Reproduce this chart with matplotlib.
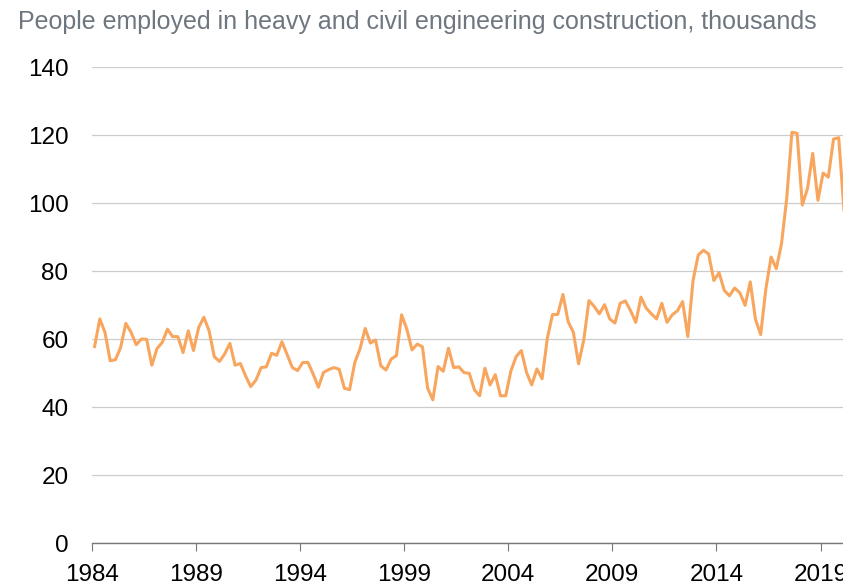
import numpy as np
import matplotlib
matplotlib.use("Agg")
import matplotlib.pyplot as plt

plt.rcParams['font.family'] = ['Liberation Sans', 'DejaVu Sans']

# quarterly employment, thousands, 1984 Q1 onwards
employed = [
    57.8, 65.9, 61.9, 53.6, 53.9, 57.5, 64.6, 62.0, 58.3, 60.0, 59.9, 52.3,
    57.2, 59.0, 62.9, 60.7, 60.7, 56.0, 62.4, 56.6, 63.4, 66.4, 62.4, 54.8,
    53.4, 55.6, 58.7, 52.3, 52.8, 49.2, 46.0, 47.9, 51.6, 51.8,
    55.8, 55.2, 59.2, 55.4, 51.6, 50.7, 53.1, 53.1, 49.7, 45.8, 50.2, 51.0,
    51.6, 51.1, 45.5, 45.1, 53.1, 57.1, 63.1, 58.8, 59.7, 52.1, 50.9, 54.1,
    55.1, 67.1, 62.9, 56.8, 58.5, 57.7, 45.5, 42.1, 51.9, 50.5, 57.3,
    51.6, 51.8, 50.1, 49.9, 45.0, 43.3, 51.4, 46.5, 49.5, 43.3, 43.3, 50.6,
    54.8, 56.6, 50.2, 46.5, 51.2, 48.3, 60.2, 67.2, 67.2, 73.1, 65.1, 62.0,
    52.7, 59.7, 71.3, 69.6, 67.4, 70.1, 65.9, 64.7,
    70.5, 71.2, 68.3, 64.9, 72.3, 69.1, 67.4, 65.9, 70.5, 64.9, 67.1, 68.3,
    71.0, 60.7, 77.2, 84.7, 86.1, 85.0, 77.2,
    79.5, 74.3, 72.7, 75.0, 73.6, 69.9, 76.8, 65.8, 61.3, 74.8, 84.1, 80.7,
    88.0, 101.3, 120.8, 120.5, 99.4, 104.3, 114.6, 100.8, 108.8, 107.6,
    118.8, 119.2, 98.0,
]
start_year = 1984
year_ticks = [1984, 1989, 1994, 1999, 2004, 2009, 2014, 2019]
value_ticks = [0, 20, 40, 60, 80, 100, 120, 140]
title = 'People employed in heavy and civil engineering construction, thousands'

# mid-quarter positions
years = start_year + 0.125 + 0.25 * np.arange(len(employed))

fig = plt.figure(figsize=(8.43, 5.82), dpi=100)
ax = fig.add_axes([92 / 843, 39 / 582, 751 / 843, 476 / 582])

ax.plot(years, employed, color='#F8A65E', linewidth=2.2)

ax.set_xlim(1984, 2020.08)
ax.set_ylim(0, 140)
ax.set_xticks(year_ticks)
ax.set_yticks(value_ticks)

ax.grid(axis='y', color='#cccccc', linewidth=0.9)
ax.set_axisbelow(True)
for side in ['top', 'right', 'left']:
    ax.spines[side].set_visible(False)
ax.spines['bottom'].set_color('#777777')
ax.spines['bottom'].set_linewidth(1.0)

ax.tick_params(axis='y', length=0, pad=17, labelsize=17.5)
ax.tick_params(axis='x', length=6, color='#777777', pad=9, labelsize=17.5)

fig.text(18 / 843, 1 - 22 / 582, title, fontsize=18, color='#6e7680',
         ha='left', va='center')

fig.savefig('out.png', dpi=100)
